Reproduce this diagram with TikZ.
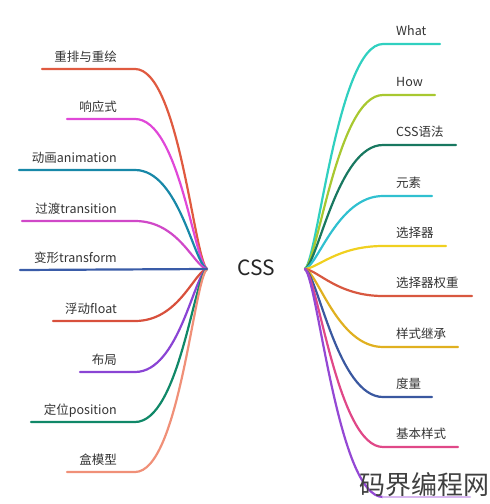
\documentclass[tikz,border=0pt]{standalone}
\usepackage{fontspec}
\setmainfont{Noto Sans CJK SC}
\definecolor{lA}{HTML}{E05A40}
\definecolor{lB}{HTML}{E048D8}
\definecolor{lC}{HTML}{1888A8}
\definecolor{lD}{HTML}{D048C8}
\definecolor{lE}{HTML}{3A5CA8}
\definecolor{lF}{HTML}{D8503C}
\definecolor{lG}{HTML}{8A44D4}
\definecolor{lH}{HTML}{108868}
\definecolor{lI}{HTML}{F09078}
\definecolor{rA}{HTML}{30D0C0}
\definecolor{rB}{HTML}{A8C830}
\definecolor{rC}{HTML}{187860}
\definecolor{rD}{HTML}{30C0D0}
\definecolor{rE}{HTML}{F0D020}
\definecolor{rF}{HTML}{D85840}
\definecolor{rG}{HTML}{E0B020}
\definecolor{rH}{HTML}{3A58A0}
\definecolor{rI}{HTML}{E04888}
\definecolor{rJ}{HTML}{9448D4}
\definecolor{rK}{HTML}{D8B8F0}
\begin{document}
\begin{tikzpicture}[x=1pt,y=-1pt,
  br/.style={line width=2.2pt, line cap=round},
  lab/.style={font=\fontsize{12.5}{14}\selectfont, text=black!80, inner sep=0pt}]
\useasboundingbox (0,0) rectangle (490,504);
\node[font=\fontsize{21}{24}\selectfont, text=black!85] (css) at (256,268) {CSS};
\coordinate (L) at (207,269);
\coordinate (R) at (305,269);
% left branches
\foreach \y/\xs/\t/\c [count=\i] in {69/42/重排与重绘/lA, 119/67/响应式/lB, 170/19/动画animation/lC, 221/22/过渡transition/lD, 321/53/浮动float/lF, 372/80/布局/lG, 422/31/定位position/lH, 472/67/盒模型/lI}{
  \coordinate (la\i) at (\xs,\y);
  \coordinate (lb\i) at (135,\y);
  \node[lab, anchor=base east] (lt\i) at (117,\y-8) {\t};
  \draw[br,\c] (la\i) -- (lb\i) .. controls +(44,0) and (194,{269+(\y-269)*0.05}) .. (L);
}
\coordinate (le) at (20,270);
\node[lab, anchor=base east] (ltE) at (117,262) {变形transform};
\draw[br,lE] (le) -- (L);
% right branches
\foreach \y/\xe/\t/\c [count=\i] in {44/440/What/rA, 95/435/How/rB, 145/456/CSS语法/rC, 196/432/元素/rD, 246/446/选择器/rE, 296/472/选择器权重/rF, 347/458/样式继承/rG, 397/432/度量/rH, 447/458/基本样式/rI}{
  \coordinate (ra\i) at (\xe,\y);
  \coordinate (rb\i) at (383,\y);
  \node[lab, anchor=base west] (rt\i) at (396,\y-9) {\t};
  \draw[br,\c] (R) .. controls (318,{269+(\y-269)*0.05}) and (338,\y) .. (rb\i) -- (ra\i);
}
\coordinate (rbJ) at (383,497);
\coordinate (raJ) at (470,497);
\draw[br,rJ] (R) .. controls (318,281) and (338,497) .. (rbJ);
\draw[br,rK] (rbJ) -- (raJ);
\node[font=\fontsize{26}{28}\selectfont, text=black!75, inner sep=0pt, anchor=base east] (wm) at (490,494) {码界编程网};
\end{tikzpicture}
\end{document}
